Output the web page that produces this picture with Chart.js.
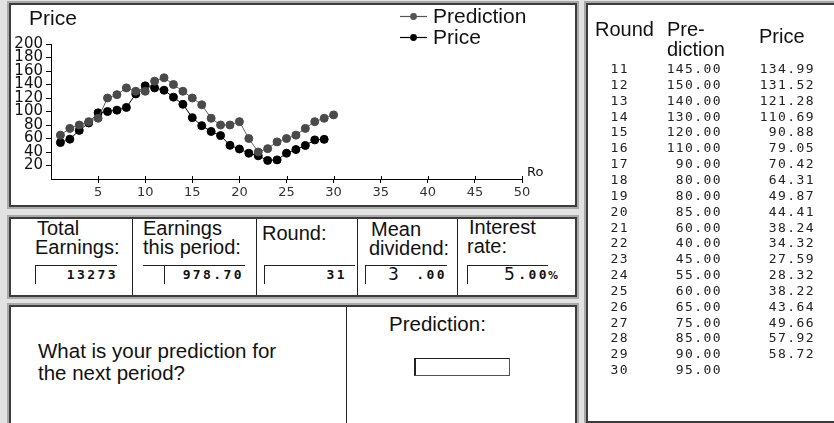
<!DOCTYPE html>
<html><head><meta charset="utf-8">
<script src="https://cdn.jsdelivr.net/npm/chart.js@4/dist/chart.umd.min.js"></script>
<style>
html,body{margin:0;padding:0}
body{width:834px;height:423px;background:#e2e2e2;position:relative;overflow:hidden;font-family:"Liberation Sans",Arial,sans-serif;color:#111}
.panel{position:absolute;background:#fff;border:2px solid #3c3c3c;box-sizing:border-box;box-shadow:0 0 0 2px #a8a8a8}
.t{position:absolute;white-space:nowrap;font-size:20px;line-height:20px}
.vl{position:absolute;width:1px;background:#222}
.hl{position:absolute;height:1px;background:#222}
.num{position:absolute;white-space:nowrap;font-family:"DejaVu Sans Mono",monospace;font-weight:bold;font-size:13px;line-height:14px;letter-spacing:2.4px;text-align:right}
.row{position:absolute;white-space:nowrap;font-family:"DejaVu Sans Mono",monospace;font-size:13px;line-height:16px;letter-spacing:1.4px;color:#222;text-align:right}
#chartWrap{position:absolute;left:11px;top:5px;width:564px;height:200px}
</style></head>
<body>
<!-- panels -->
<div class="panel" style="left:9px;top:3px;width:568px;height:204px"></div>
<div class="panel" style="left:9px;top:217px;width:568px;height:80px"></div>
<div class="panel" style="left:9px;top:305px;width:568px;height:130px"></div>
<div class="panel" style="left:586px;top:3px;width:260px;height:420px"></div>

<div id="chartWrap"><canvas id="c" width="564" height="200" style="width:564px;height:200px"></canvas></div>
<div class="t" style="left:29px;top:7px;font-size:21px;line-height:21px">Price</div>
<div id="legend"></div>
<div class="t" style="left:527px;top:165px;font-family:'DejaVu Sans';font-size:13px;line-height:14px">Ro</div>

<!-- middle panel -->
<div class="vl" style="left:132px;top:219px;height:76px"></div>
<div class="vl" style="left:256px;top:219px;height:76px"></div>
<div class="vl" style="left:357px;top:219px;height:76px"></div>
<div class="vl" style="left:457px;top:219px;height:76px"></div>
<div class="t" style="left:37px;top:218px">Total</div>
<div class="t" style="left:35px;top:237px">Earnings:</div>
<div class="t" style="left:143px;top:218px">Earnings</div>
<div class="t" style="left:143px;top:237px">this period:</div>
<div class="t" style="left:262px;top:223px">Round:</div>
<div class="t" style="left:371px;top:219px">Mean</div>
<div class="t" style="left:369px;top:238px">dividend:</div>
<div class="t" style="left:469px;top:217px">Interest</div>
<div class="t" style="left:467px;top:236px">rate:</div>
<div id="boxes"></div>

<!-- bottom panel -->
<div class="vl" style="left:346px;top:307px;height:120px"></div>
<div class="t" style="left:38px;top:341px;font-size:20.5px">What is your prediction for</div>
<div class="t" style="left:38px;top:363px;font-size:20.5px">the next period?</div>
<div class="t" style="left:389px;top:314px;font-size:20.5px">Prediction:</div>
<div style="position:absolute;left:414px;top:358px;width:96px;height:18px;box-sizing:border-box;border:1px solid #555;border-left:2px solid #222;border-top:1px solid #222;background:#fff"></div>

<!-- right panel -->
<div class="t" style="left:595px;top:19px">Round</div>
<div class="t" style="left:667px;top:19px">Pre-</div>
<div class="t" style="left:667px;top:39px">diction</div>
<div class="t" style="left:759px;top:26px">Price</div>
<div id="table"></div>

<script>
// ---- data ----
const rounds = [1,2,3,4,5,6,7,8,9,10,11,12,13,14,15,16,17,18,19,20,21,22,23,24,25,26,27,28,29,30];
const prediction = [65,75,80,85,90,120,125,135,130,130,145,150,140,130,120,110,90,80,80,85,60,40,45,55,60,65,75,85,90,95];
const price = [54,59,72,83,98,100,102,106,126,138,134.99,131.52,121.28,110.69,90.88,79.05,70.42,64.31,49.87,44.41,38.24,34.32,27.59,28.32,38.22,43.64,49.66,57.92,58.72];
const xTicks = [5,10,15,20,25,30,35,40,45,50];
const yTicks = [20,40,60,80,100,120,140,160,180,200];
const seriesNames = ['Prediction','Price'];
const tableFirstRound = 11;
const totalEarnings = '13273';
const periodEarnings = '978.70';
const currentRound = '31';
const meanDividend = ['3','.00'];
const interestRate = ['5','.00'];

// ---- legend (HTML) ----
const legendColors = ['#555','#000'];
const legendTops = [5,26];
const leg = document.getElementById('legend');
seriesNames.forEach((n,i)=>{
  const d = document.createElement('div');
  d.style.cssText = 'position:absolute;left:400px;top:'+legendTops[i]+'px;height:21px;white-space:nowrap;font-size:21px;line-height:21px';
  d.innerHTML = '<svg width="28" height="21" style="vertical-align:top"><line x1="0" y1="11.5" x2="27" y2="11.5" stroke="'+legendColors[i]+'" stroke-width="1.2"/><circle cx="13.5" cy="11.5" r="3.4" fill="'+legendColors[i]+'"/></svg><span style="position:absolute;left:33px;top:0">'+n+'</span>';
  leg.appendChild(d);
});

// ---- boxes ----
const boxes = document.getElementById('boxes');
function box(x1,x2,lineStart){
  const h = document.createElement('div'); h.className='hl';
  h.style.cssText += 'left:'+lineStart+'px;top:265px;width:'+(x2-lineStart)+'px';
  const v = document.createElement('div'); v.className='vl';
  v.style.cssText += 'left:'+x1+'px;top:265px;height:19px';
  boxes.appendChild(h); boxes.appendChild(v);
}
box(35,117,35); box(164,245,143); box(264,355,264); box(365,447,365); box(467,548,467);
function num(txt,right){
  const d=document.createElement('div'); d.className='num'; d.textContent=txt;
  d.style.right=(834-right)+'px'; d.style.top='268px'; boxes.appendChild(d);
}
num(totalEarnings,118); num(periodEarnings,244); num(currentRound,347);
function split(parts,bigLeft,smallRight,pct){
  const b=document.createElement('div'); b.className='t';
  b.style.cssText+='left:'+bigLeft+'px;top:265px;font-family:"DejaVu Sans";font-size:17px;line-height:18px';
  b.textContent=parts[0]; boxes.appendChild(b);
  num(parts[1],smallRight);
  if(pct){const p=document.createElement('div'); p.className='t';
    p.style.cssText+='left:548px;top:270px;font-family:"DejaVu Sans";font-size:10px;line-height:12px;font-weight:bold';
    p.textContent='%'; boxes.appendChild(p);}
}
split(meanDividend,388,447,false);
split(interestRate,504,549,true);

// ---- table ----
const tbl = document.getElementById('table');
rounds.forEach((r,i)=>{
  if(r<tableFirstRound) return;
  const k = r-tableFirstRound;
  const top = 61 + k*15.85;
  const cells = [[String(r),629],[prediction[i].toFixed(2),722],[i<price.length?price[i].toFixed(2):'',815]];
  cells.forEach(([txt,right])=>{
    const d=document.createElement('div'); d.className='row'; d.textContent=txt;
    d.style.right=(834-right)+'px'; d.style.top=top+'px'; tbl.appendChild(d);
  });
});

// ---- chart ----
const tickUp = {id:'tickUp', afterDraw(c){
  const x=c.scales.x, g=c.ctx, yb=c.chartArea.bottom;
  g.save(); g.strokeStyle='#000'; g.lineWidth=1; g.beginPath();
  xTicks.forEach(v=>{const px=Math.round(x.getPixelForValue(v))+0.5; g.moveTo(px,yb); g.lineTo(px,yb-3);});
  g.stroke(); g.restore();
}};
const ptColors = ['#4a4a4a','#000'];
const lineColors = ['#5e5e5e','#000'];
const seriesValues = [prediction, price];
new Chart(document.getElementById('c'), {
  type:'line',
  data:{datasets: seriesNames.map((n,si)=>({
    label:n,
    data: seriesValues[si].map((v,i)=>({x:rounds[i], y:v})),
    borderColor: lineColors[si], backgroundColor: ptColors[si],
    pointBackgroundColor: ptColors[si], pointBorderColor: ptColors[si],
    pointRadius:4, pointBorderWidth:1, pointStyle:'circle', borderWidth:1, tension:0, fill:false
  }))},
  options:{
    responsive:false, animation:false, devicePixelRatio:1,
    layout:{padding:{left:0,top:39,right:53,bottom:0}},
    plugins:{legend:{display:false}, tooltip:{enabled:false}, title:{display:false}},
    scales:{
      x:{type:'linear', min:0, max:50,
        afterBuildTicks:s=>{s.ticks = xTicks.map(v=>({value:v}));},
        afterFit:s=>{s.height=26;},
        grid:{drawOnChartArea:false, drawTicks:true, tickLength:4, color:'#000'},
        border:{color:'#000', width:1},
        ticks:{font:{family:'DejaVu Sans', size:13}, color:'#333', padding:2, maxRotation:0, autoSkip:false}},
      y:{type:'linear', min:0, max:200,
        afterBuildTicks:s=>{s.ticks = yTicks.map(v=>({value:v}));},
        afterFit:s=>{s.width=40;},
        grid:{drawOnChartArea:false, drawTicks:true, tickLength:5, color:'#000'},
        border:{color:'#000', width:1},
        ticks:{font:{family:'DejaVu Sans', size:15}, color:'#111', padding:3, autoSkip:false}}
    }
  },
  plugins:[tickUp]
});
</script>
</body></html>
